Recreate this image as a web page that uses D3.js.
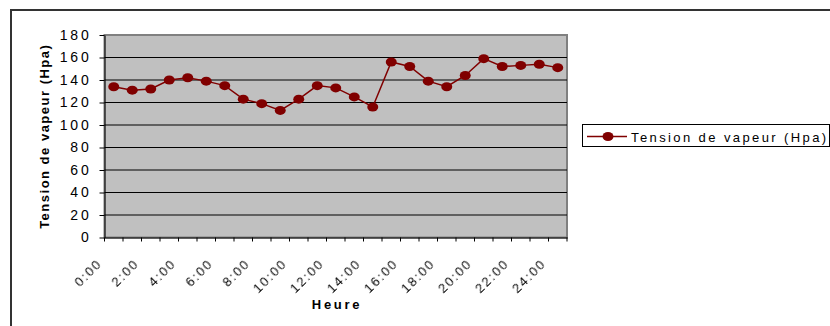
<!DOCTYPE html>
<html>
<head>
<meta charset="utf-8">
<script src="https://cdn.jsdelivr.net/npm/d3@7"></script>
<style>
  html, body { margin: 0; padding: 0; background: #fff; }
  svg { display: block; font-family: "Liberation Sans", Arial, sans-serif; }
</style>
</head>
<body>
<svg id="chart" width="830" height="326"></svg>
<script>
// Hourly readings, 0:00 to 24:00
const hours = ["0:00","1:00","2:00","3:00","4:00","5:00","6:00","7:00","8:00","9:00",
  "10:00","11:00","12:00","13:00","14:00","15:00","16:00","17:00","18:00","19:00",
  "20:00","21:00","22:00","23:00","24:00"];
const tension = [134,131,132,140,142,139,135,123,119,113,123,135,133,125,116,156,152,139,134,144,159,152,153,154,151];
const yTicks = [0,20,40,60,80,100,120,140,160,180];
const xLabels = ["0:00","2:00","4:00","6:00","8:00","10:00","12:00","14:00","16:00","18:00","20:00","22:00","24:00"];
const seriesName = "Tension de vapeur (Hpa)";
const xTitle = "Heure";
const yTitle = "Tension de vapeur (Hpa)";

const svg = d3.select("#chart");
const dark = "#800000";

// identity filter: renders the rotated labels offscreen with grayscale antialiasing
svg.append("defs").append("filter").attr("id", "flat")
  .append("feOffset").attr("dx", 0).attr("dy", 0);

// outer frame
svg.append("rect").attr("x", 11).attr("y", 10).attr("width", 840).attr("height", 340)
  .attr("fill", "#fff").attr("stroke", "#333").attr("stroke-width", 2);

const x = d3.scaleBand().domain(hours).range([104.5, 567]).padding(0);
const y = d3.scaleLinear().domain([0, 180]).range([237.5, 35]);

// plot background
svg.append("rect")
  .attr("x", x.range()[0]).attr("y", y(180))
  .attr("width", x.range()[1] - x.range()[0]).attr("height", y(0) - y(180))
  .attr("fill", "#c0c0c0").attr("stroke", "#808080").attr("stroke-width", 2);

// horizontal gridlines
svg.append("g").selectAll("line").data(yTicks.filter(d => d > 0 && d < 180)).join("line")
  .attr("x1", x.range()[0]).attr("x2", x.range()[1])
  .attr("y1", d => y(d)).attr("y2", d => y(d))
  .attr("stroke", "#000").attr("stroke-width", 1);

// y axis
const yAxis = svg.append("g").attr("transform", `translate(${x.range()[0]},0)`)
  .call(d3.axisLeft(y).tickValues(yTicks).tickSize(5).tickSizeOuter(0).tickPadding(8).tickFormat(d => d));
yAxis.select(".domain").attr("stroke", "#000");
yAxis.selectAll(".tick line").attr("stroke", "#000");
yAxis.selectAll("text").attr("font-size", 14).attr("fill", "#000")
  .attr("font-family", "Liberation Sans, Arial, sans-serif")
  .style("letter-spacing", "2.8px");

// x axis: line, boundary ticks, rotated labels
const xAxis = svg.append("g").attr("transform", `translate(0,${y(0)})`)
  .call(d3.axisBottom(x).tickValues(xLabels).tickSize(0).tickSizeOuter(0));
xAxis.select(".domain").attr("stroke", "#000");
xAxis.selectAll(".tick text")
  .attr("font-size", 13).attr("fill", "#000")
  .attr("font-family", "Liberation Sans, Arial, sans-serif")
  .style("letter-spacing", "1.8px")
  .attr("filter", "url(#flat)")
  .attr("text-anchor", "end")
  .attr("dy", null).attr("y", 0)
  .attr("transform", "translate(-11,27) rotate(-45)");

const bounds = hours.map(h => x(h)).concat([x.range()[1]]);
svg.append("g").selectAll("line").data(bounds).join("line")
  .attr("x1", d => d).attr("x2", d => d)
  .attr("y1", y(0)).attr("y2", y(0) + 4)
  .attr("stroke", "#000");

// series line and markers
const pts = hours.map((h, i) => [x(h) + x.bandwidth() / 2, y(tension[i])]);
svg.append("path").datum(pts)
  .attr("d", d3.line())
  .attr("fill", "none").attr("stroke", dark).attr("stroke-width", 1.5);
svg.append("g").selectAll("ellipse").data(pts).join("ellipse")
  .attr("cx", d => d[0]).attr("cy", d => d[1])
  .attr("rx", 5.5).attr("ry", 4.5).attr("fill", dark);

// axis titles
svg.append("text").attr("x", 337).attr("y", 309)
  .attr("text-anchor", "middle").attr("font-size", 13).attr("font-weight", "bold")
  .style("letter-spacing", "2.7px").text(xTitle);
svg.append("text")
  .attr("transform", `translate(48.5,${(y(0) + y(180)) / 2}) rotate(-90)`)
  .attr("text-anchor", "middle").attr("font-size", 13).attr("font-weight", "bold")
  .style("letter-spacing", "1.5px").text(yTitle);

// legend
const lg = svg.append("g");
lg.append("rect").attr("x", 582.5).attr("y", 124.5).attr("width", 247).attr("height", 22)
  .attr("fill", "#fff").attr("stroke", "#000").attr("stroke-width", 1);
lg.append("line").attr("x1", 587).attr("x2", 627).attr("y1", 136.5).attr("y2", 136.5)
  .attr("stroke", dark).attr("stroke-width", 1.5);
lg.append("ellipse").attr("cx", 608).attr("cy", 136.5).attr("rx", 5.5).attr("ry", 4.5).attr("fill", dark);
lg.append("text").attr("x", 631).attr("y", 141.5).attr("font-size", 13)
  .style("letter-spacing", "2.4px").text(seriesName);
</script>
</body>
</html>
